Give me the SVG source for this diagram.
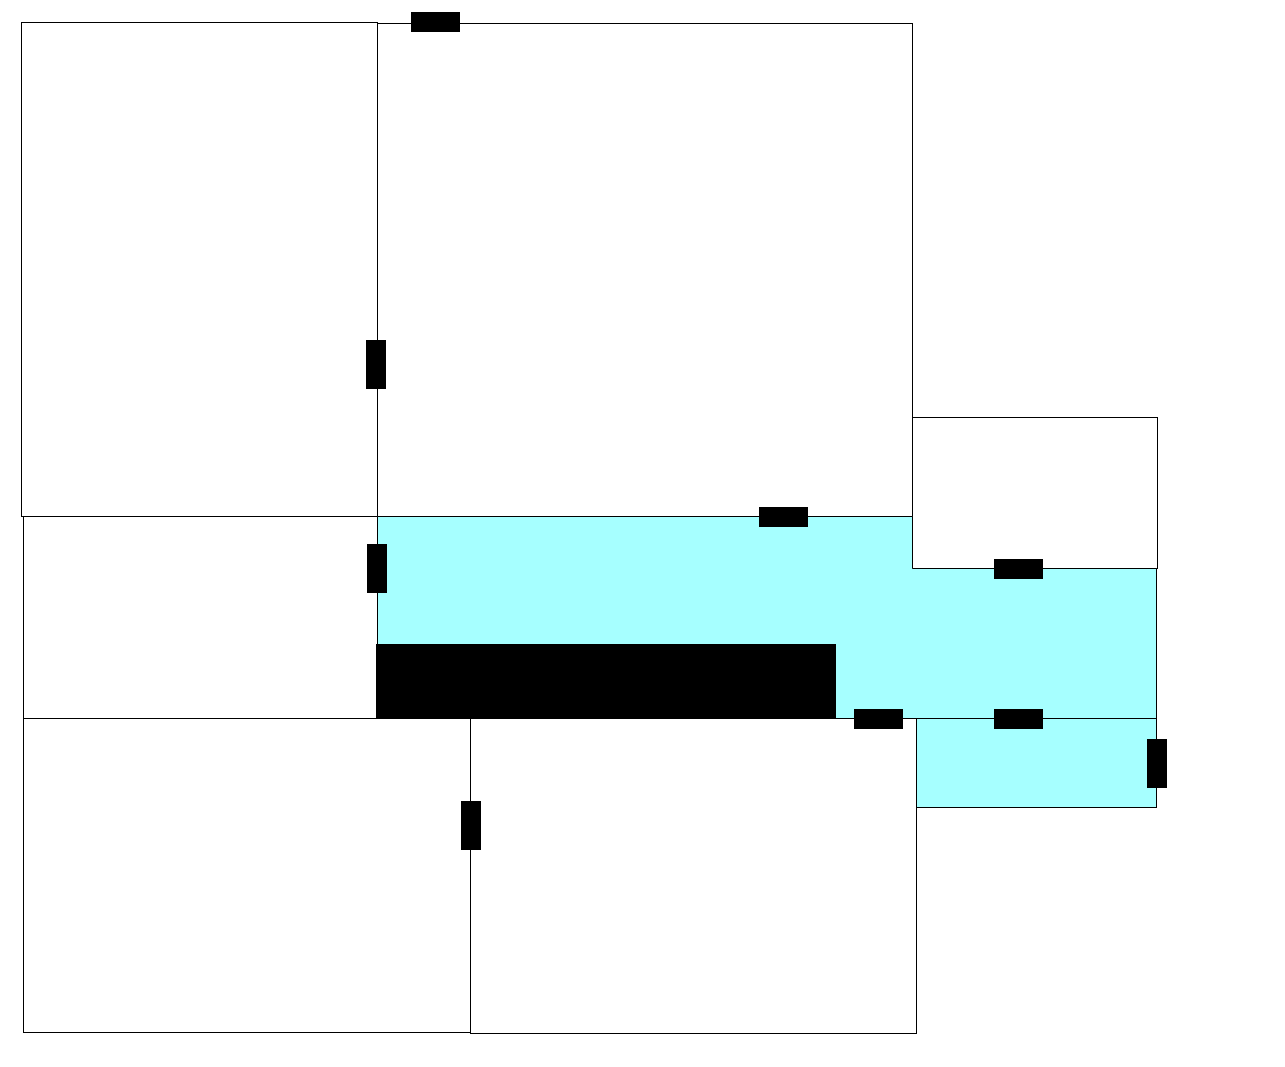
<svg xmlns="http://www.w3.org/2000/svg" width="1285" height="1067" viewBox="0 0 1285 1067">
<style>
.room{fill:#ffffff;stroke:#000;stroke-width:1}
.hall{fill:#a6ffff;stroke:#000;stroke-width:1}
.door{fill:#000;stroke:none}
</style>
<rect width="1285" height="1067" fill="#ffffff"/>
<g id="room-a"><rect class="room" x="21.5" y="22.5" width="356" height="494"/></g>
<g id="room-b"><rect class="room" x="377.5" y="23.5" width="535" height="493"/></g>
<g id="room-d"><rect class="room" x="912.5" y="417.5" width="245" height="151"/></g>
<g id="room-c"><rect class="room" x="23.5" y="516.5" width="354" height="202"/></g>
<g id="hall-main"><polygon class="hall" points="377.5,516.5 912.5,516.5 912.5,568.5 1156.5,568.5 1156.5,718.5 377.5,718.5"/></g>
<g id="block"><rect x="376" y="644" width="460" height="74" fill="#000"/></g>
<g id="hall-lower"><rect class="hall" x="916.5" y="718.5" width="240" height="89"/></g>
<g id="room-e"><rect class="room" x="23.5" y="718.5" width="447" height="314"/></g>
<g id="room-f"><rect class="room" x="470.5" y="718.5" width="446" height="315"/></g>
<g id="doors">
<rect class="door" x="411" y="12" width="49" height="20"/>
<rect class="door" x="366" y="340" width="20" height="49"/>
<rect class="door" x="367" y="544" width="20" height="49"/>
<rect class="door" x="759" y="507" width="49" height="20"/>
<rect class="door" x="994" y="559" width="49" height="20"/>
<rect class="door" x="854" y="709" width="49" height="20"/>
<rect class="door" x="994" y="709" width="49" height="20"/>
<rect class="door" x="1147" y="739" width="20" height="49"/>
<rect class="door" x="461" y="801" width="20" height="49"/>
</g>
</svg>
